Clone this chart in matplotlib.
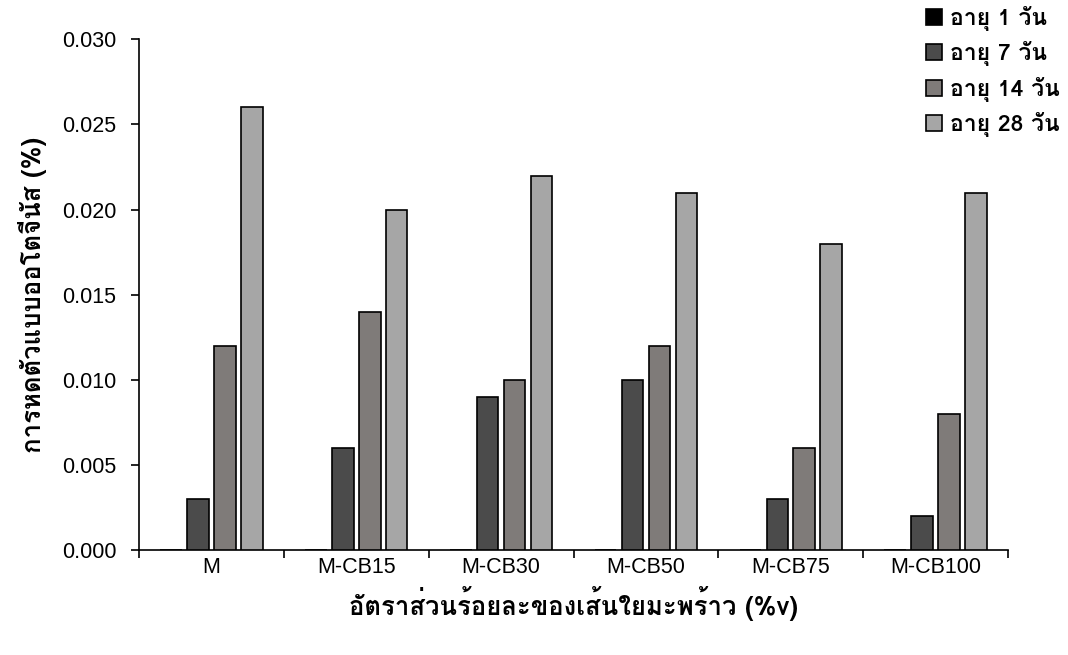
import numpy as np
import matplotlib
matplotlib.use("Agg")
import matplotlib.pyplot as plt
from matplotlib import font_manager
from fontTools.ttLib import TTFont

# Data
categories = ["M", "M-CB15", "M-CB30", "M-CB50", "M-CB75", "M-CB100"]
series_names = ["อายุ 1 วัน", "อายุ 7 วัน", "อายุ 14 วัน", "อายุ 28 วัน"]
day1 = [0.0, 0.0, 0.0, 0.0, 0.0, 0.0]
day7 = [0.003, 0.006, 0.009, 0.010, 0.003, 0.002]
day14 = [0.012, 0.014, 0.010, 0.012, 0.006, 0.008]
day28 = [0.026, 0.020, 0.022, 0.021, 0.018, 0.021]
colors = ["#000000", "#4b4b4b", "#7f7b79", "#a6a6a6"]


# find an installed font that has Thai glyphs
def find_thai_font():
    for f in font_manager.fontManager.ttflist:
        try:
            tt = TTFont(f.fname, fontNumber=0, lazy=True)
            cmap = tt.getBestCmap()
            if cmap and 0x0E2D in cmap and 0x0E31 in cmap:
                return f.name
        except Exception:
            continue
    return "DejaVu Sans"


thai_font = find_thai_font()
thai_family = [thai_font, "DejaVu Sans"]
latin_font = "Liberation Sans"

fig = plt.figure(figsize=(10.68, 6.55), dpi=100, facecolor="white")
ax = fig.add_axes([0.130, 0.160, 0.814, 0.780])

x = np.arange(len(categories))
step = 0.186
width = 0.15
all_series = [day1, day7, day14, day28]
for i, (vals, name, col) in enumerate(zip(all_series, series_names, colors)):
    ax.bar(x + (i - 1.5) * step, vals, width=width, color=col,
           edgecolor="black", linewidth=1.2, label=name, zorder=3)

yticks = np.arange(0, 0.0301, 0.005)
ax.set_xlim(-0.5, len(categories) - 0.5)
ax.set_ylim(0, 0.030)
ax.set_yticks(yticks)
ax.set_yticklabels([f"{v:.3f}" for v in yticks], fontfamily=latin_font, fontsize=15.5)
ax.set_xticks(x)
ax.set_xticklabels(categories, fontfamily=latin_font, fontsize=15.5)
ax.set_xticks(np.arange(-0.5, len(categories)), minor=True)
ax.tick_params(axis="x", which="major", length=0, pad=5)
ax.tick_params(axis="x", which="minor", length=6, width=1.2, direction="out")
ax.tick_params(axis="y", length=6, width=1.2, direction="out", pad=10)

ax.spines[["top", "right"]].set_visible(False)
ax.spines[["left", "bottom"]].set_linewidth(1.2)

ax.set_ylabel("การหดตัวแบบออโตจีนัส (%)", fontfamily=thai_family,
              fontsize=18.5, fontweight="bold", labelpad=11)
ax.set_xlabel("อัตราส่วนร้อยละของเส้นใยมะพร้าว (%v)", fontfamily=thai_family,
              fontsize=18.5, fontweight="bold", labelpad=6)

ax.legend(loc="upper left", bbox_to_anchor=(0.905, 1.065), frameon=False,
          prop={"family": thai_family, "size": 16.5, "weight": "bold"},
          handlelength=0.7, handleheight=0.7, handletextpad=0.35, labelspacing=0.45,
          borderaxespad=0, borderpad=0)

fig.savefig("out.png", dpi=100, facecolor="white")
